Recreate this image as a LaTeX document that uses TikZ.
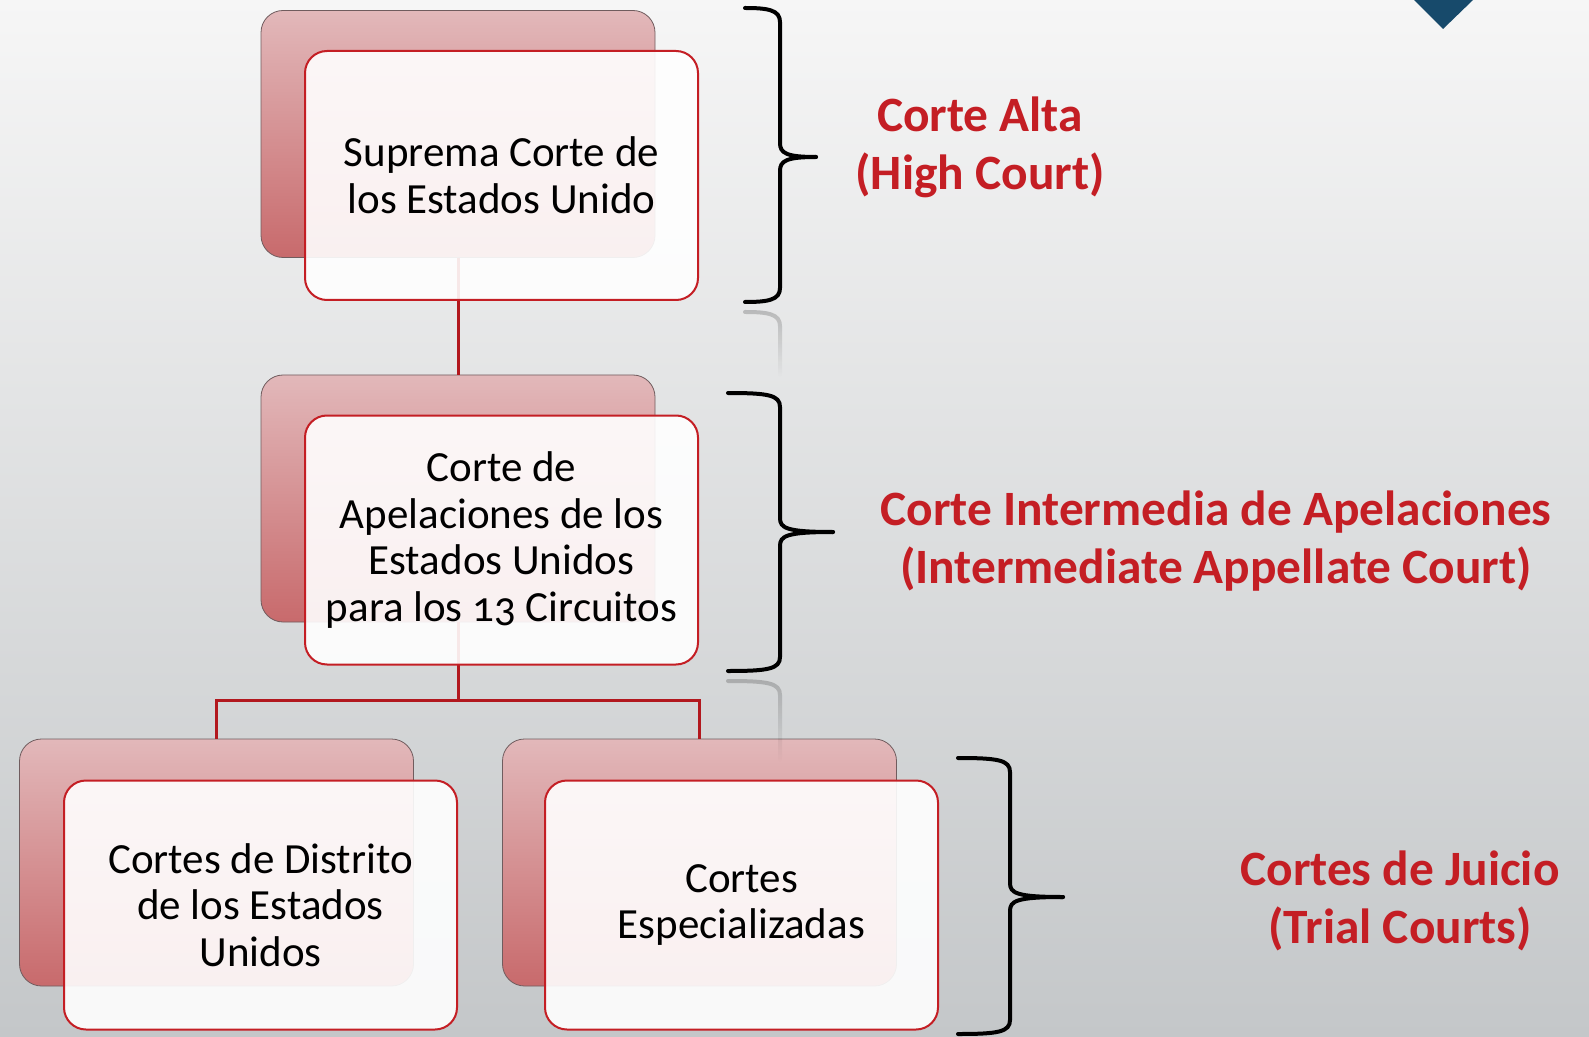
\documentclass[tikz,border=0pt]{standalone}
\usepackage{fontspec}
\setmainfont{Carlito}[Numbers=OldStyle]
\usetikzlibrary{fadings}

\definecolor{courtred}{RGB}{196,30,36}
\definecolor{linkred}{RGB}{178,24,30}
\definecolor{backtop}{RGB}{226,184,186}
\definecolor{backbot}{RGB}{200,106,108}
\definecolor{backedge}{RGB}{112,92,94}
\definecolor{slatetop}{RGB}{246,246,246}
\definecolor{slatebot}{RGB}{196,199,201}
\definecolor{navy}{RGB}{23,74,107}

\tikzset{
	backbox/.style={rounded corners=11pt, draw=backedge, top color=backtop, bottom color=backbot,
		minimum width=197pt, minimum height=123.5pt, inner sep=0pt},
	frontbox/.style={rounded corners=11pt, draw=courtred, line width=1pt, fill=white, fill opacity=0.9,
		text opacity=1, minimum width=196.5pt, minimum height=124.5pt, align=center,
		font=\fontsize{21.5}{23.3}\selectfont},
	level/.style={text=courtred, align=center, font=\bfseries\fontsize{24.7}{29}\selectfont},
	link/.style={draw=linkred, line width=1.5pt},
	bracket/.style={line width=2pt, line cap=round},
}

\begin{document}
\begin{tikzpicture}[x=0.5pt,y=-0.5pt]
			\useasboundingbox (0,0) rectangle (1589,1037);
			\shade[top color=slatetop, bottom color=slatebot] (0,0) rectangle (1589,1037);
			\fill[navy] (1414,0) -- (1473,0) -- (1443,29) -- cycle;
			
			\node[backbox] (0b) at (458,134) {};
			\node[backbox] (1b) at (458,498.5) {};
			\node[backbox] (2b) at (216.5,862.5) {};
			\node[backbox] (3b) at (699.5,862.5) {};
			
			\coordinate (j) at (458,700);
			\draw[link] (0b) -- (1b);
			\draw[link] (1b) -- (j);
			\draw[link] (j) -| (2b);
			\draw[link] (j) -| (3b);
			
			\node[frontbox] (0) at (501.5,175.5) {Suprema Corte de\\los Estados Unido};
			\node[frontbox] (1) at (501.5,540) {Corte de\\Apelaciones de los\\Estados Unidos\\para los 13 Circuitos};
			\node[frontbox] (2) at (260.5,905) {Cortes de Distrito\\de los Estados\\Unidos};
			\node[frontbox] (3) at (741.5,905) {Cortes\\Especializadas};
			
			% braces and their faint reflections
			\foreach \l/\s/\t/\m/\b/\tip in {745/780/8/157/302/816, 728/780/393/532/671/833, 958/1010/758/897/1034/1063} {
				\draw[bracket] (\l,\t) .. controls (\s-12,\t) and (\s,\t+2) .. (\s,\t+14) -- (\s,\m-14)
					.. controls (\s,\m-4) and (\s+6,\m) .. (\tip,\m);
				\draw[bracket] (\tip,\m) .. controls (\s+6,\m) and (\s,\m+4) .. (\s,\m+14) -- (\s,\b-14)
					.. controls (\s,\b-2) and (\s-12,\b) .. (\l,\b);
			}
			\draw[bracket, black, draw opacity=0.2, path fading=south] (745,312) .. controls (768,312) and (780,314) .. (780,326) -- (780,375);
			\draw[bracket, black, draw opacity=0.2, path fading=south] (728,681) .. controls (768,681) and (780,683) .. (780,695) -- (780,760);
			
			\node[level] (a) at (980,147) {Corte Alta\\(High Court)};
			\node[level] (b) at (1216,541) {Corte Intermedia de Apelaciones\\(Intermediate Appellate Court)};
			\node[level] (c) at (1400,901) {Cortes de Juicio\\(Trial Courts)};
		\end{tikzpicture}
\end{document}
